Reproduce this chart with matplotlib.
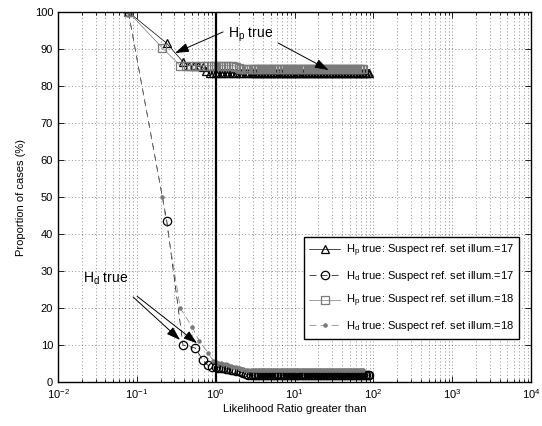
import numpy as np
import matplotlib as mpl
import matplotlib.pyplot as plt

mpl.rcParams['font.family'] = ['Liberation Sans', 'DejaVu Sans']
mpl.rcParams['mathtext.fontset'] = 'custom'
mpl.rcParams['mathtext.rm'] = 'Liberation Sans'
mpl.rcParams['mathtext.it'] = 'Liberation Sans:italic'
mpl.rcParams['lines.scale_dashes'] = False

###############################################################################
# values
# early thresholds (below LR = 1), one set per series
hp17_x_head = [0.078, 0.24, 0.385, 0.46, 0.53, 0.6, 0.68, 0.76, 0.84, 0.92]
hp17_y_head = [100, 91.5, 86.5, 85.5, 85.5, 85.3, 85.0, 84.0, 83.5, 83.5]
hd17_x_head = [0.078, 0.24, 0.385, 0.55, 0.69, 0.8, 0.9]
hd17_y_head = [100, 43.5, 10.0, 9.2, 5.9, 4.5, 4.1]
hp18_x_head = [0.078, 0.21, 0.355, 0.42, 0.49, 0.56, 0.64, 0.72, 0.8, 0.88, 0.95]
hp18_y_head = [100, 90.3, 85.5, 85.5, 85.5, 85.5, 85.5, 85.5, 85.5, 85.5, 85.5]
hd18_x_head = [0.078, 0.21, 0.355, 0.5, 0.62, 0.8, 0.92]
hd18_y_head = [100, 50.0, 20.0, 15.0, 11.0, 8.0, 5.8]

# shared thresholds from LR = 1 up to the end of the curves
lr_thresh = [1.0, 1.08, 1.16, 1.25, 1.35, 1.45, 1.56, 1.68, 1.8, 1.95, 2.1,
             2.25, 2.4, 2.6, 2.8, 3.0,
             3.14, 3.28, 3.42, 3.58, 3.74, 3.91, 4.08, 4.27, 4.46, 4.66,
             4.87, 5.09, 5.32, 5.56, 5.81, 6.07, 6.34, 6.63, 6.93, 7.24,
             7.56, 7.9, 8.26, 8.63, 9.02, 9.42, 9.85, 10.3, 10.8, 11.2, 11.7,
             12.3, 12.8, 13.4, 14.0, 14.6, 15.3, 16.0, 16.7, 17.4, 18.2,
             19.0, 19.9, 20.8, 21.7, 22.7, 23.7, 24.8, 25.9, 27.1, 28.3,
             29.5, 30.9, 32.3, 33.7, 35.2, 36.8, 38.5, 40.2, 42.0, 43.9,
             45.9, 48.0, 50.1, 52.4, 54.7, 57.2, 59.8, 62.5, 65.3, 68.2,
             71.3, 74.5, 77.8, 81.3, 85.0, 88.0]
lr_end_18 = 75.0

# values over the first 16 shared thresholds (1.0 .. 3.0), then flat level
hp17_y_trans = [83.5, 83.5, 83.5, 83.5, 83.5, 83.5, 83.5, 83.5, 83.5, 83.5,
                83.5, 83.5, 83.5, 83.5, 83.5, 83.5]
hd17_y_trans = [4.0, 3.9, 3.8, 3.7, 3.6, 3.5, 3.4, 3.2, 3.0, 2.9, 2.7, 2.5,
                2.2, 2.0, 1.9, 1.9]
hp18_y_trans = [85.5, 85.5, 85.5, 85.5, 85.5, 85.5, 85.5, 85.5, 85.2, 84.8,
                84.5, 84.5, 84.5, 84.5, 84.5, 84.5]
hd18_y_trans = [5.5, 5.3, 5.1, 5.0, 4.8, 4.6, 4.4, 4.2, 4.0, 3.8, 3.6, 3.5,
                3.4, 3.3, 3.2, 3.2]
hp17_level = 83.5
hd17_level = 1.9
hp18_level = 84.5
hd18_level = 3.2

labels = [r'H$_\mathrm{p}$ true: Suspect ref. set illum.=17',
          r'H$_\mathrm{d}$ true: Suspect ref. set illum.=17',
          r'H$_\mathrm{p}$ true: Suspect ref. set illum.=18',
          r'H$_\mathrm{d}$ true: Suspect ref. set illum.=18']
###############################################################################


def build(x_head, y_head, y_trans, level, x_max):
    xs = [x for x in lr_thresh if x <= x_max]
    ys = list(y_trans) + [level] * (len(xs) - len(y_trans))
    return list(x_head) + xs, list(y_head) + ys


hp17_x, hp17_y = build(hp17_x_head, hp17_y_head, hp17_y_trans, hp17_level, 100)
hd17_x, hd17_y = build(hd17_x_head, hd17_y_head, hd17_y_trans, hd17_level, 100)
hp18_x, hp18_y = build(hp18_x_head, hp18_y_head, hp18_y_trans, hp18_level, lr_end_18)
hd18_x, hd18_y = build(hd18_x_head, hd18_y_head, hd18_y_trans, hd18_level, lr_end_18)

gray = '#7a7a7a'

fig = plt.figure(figsize=(5.42, 4.26), dpi=100)
ax = fig.add_axes([0.107, 0.103, 0.873, 0.869])

ax.plot(hp17_x, hp17_y, color='k', lw=0.5, marker='^', ms=6, mfc='none',
        mec='k', mew=0.9, label=labels[0])
ax.plot(hd17_x, hd17_y, color='k', lw=0.5, ls=(0, (5, 3)), marker='o', ms=6,
        mfc='none', mec='k', mew=0.9, label=labels[1])
ax.plot(hp18_x, hp18_y, color=gray, lw=0.5, marker='s', ms=6, mfc='none',
        mec=gray, mew=0.9, label=labels[2])
ax.plot(hd18_x, hd18_y, color=gray, lw=0.5, ls=(0, (5, 3)), marker='.',
        ms=4.5, mfc=gray, mec=gray, label=labels[3])

ax.axvline(1, color='k', lw=1.6)

ax.set_xscale('log')
ax.set_xlim(1e-2, 1e4)
ax.set_ylim(0, 100)
ax.set_yticks(np.arange(0, 101, 10))

ax.set_xlabel('Likelihood Ratio greater than', fontsize=8, labelpad=2)
ax.set_ylabel('Proportion of cases (%)', fontsize=8, labelpad=6)

ax.tick_params(axis='both', which='both', direction='in', top=True,
               right=True, labelsize=8, width=0.6)
ax.tick_params(axis='both', which='major', length=4)
ax.tick_params(axis='both', which='minor', length=2.5)
ax.tick_params(axis='x', which='major', pad=4)
ax.yaxis.set_minor_locator(mpl.ticker.NullLocator())
for s in ax.spines.values():
    s.set_linewidth(1.0)

# MATLAB style dotted grid, minor lines on the log axis
ax.grid(axis='both', which='major', color='k', alpha=0.55, lw=0.5,
        ls=(0, (0.8, 1.6)))
ax.grid(axis='x', which='minor', color='k', alpha=0.55, lw=0.5,
        ls=(0, (0.8, 1.6)))
ax.set_axisbelow(True)

# arrows and their labels
arrow = dict(arrowstyle='-|>,head_length=0.6,head_width=0.2', color='k',
             lw=0.7, shrinkA=0, shrinkB=0, mutation_scale=14)
ax.annotate('', xy=(0.305, 88.9), xytext=(1.24, 94.6), arrowprops=arrow)
ax.annotate('', xy=(27, 84.3), xytext=(6.2, 91.6), arrowprops=arrow)
ax.text(1.43, 93.0, r'H$_\mathrm{p}$ true', fontsize=10, va='baseline')

ax.annotate('', xy=(0.353, 11.4), xytext=(0.0896, 23.0), arrowprops=arrow)
ax.annotate('', xy=(0.58, 10.5), xytext=(0.1007, 23.2), arrowprops=arrow)
ax.text(0.0205, 27.0, r'H$_\mathrm{d}$ true', fontsize=10, va='baseline')

leg = ax.legend(loc='upper right', bbox_to_anchor=(0.975, 0.392),
                borderaxespad=0, fontsize=8, numpoints=1, handlelength=2.8,
                labelspacing=0.9, fancybox=False, framealpha=1,
                edgecolor='k', borderpad=0.5, handletextpad=0.5)
leg.get_frame().set_linewidth(1.0)

plt.savefig('out.png', dpi=100)
plt.close()
